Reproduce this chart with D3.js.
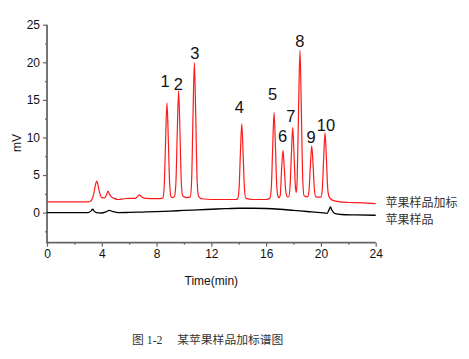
<!DOCTYPE html>
<html><head><meta charset="utf-8">
<script src="https://cdn.jsdelivr.net/npm/d3@7/dist/d3.min.js"></script>
<style>
html,body{margin:0;padding:0;background:#fff;}
svg{display:block;}
</style></head>
<body>
<svg id="chart" width="469" height="359"></svg>
<script>
// ---- data (time in min, signal in mV) ----
const spikedSeries = [
  [0,1.42],[3.0,1.42],[3.2,1.55],[3.4,2.4],[3.55,3.8],[3.63,4.2],[3.72,3.7],[3.85,2.6],[4.0,2.0],
  [4.2,1.95],[4.35,2.4],[4.45,2.85],[4.55,2.5],[4.7,2.1],[4.9,1.9],[5.2,1.75],[5.6,1.85],[6.0,1.9],
  [6.4,1.9],[6.6,2.1],[6.74,2.35],[6.9,2.1],[7.2,1.9],[8.0,1.85],[8.4,1.9],
  [8.46,1.95],[8.56,3.6],[8.66,9.6],[8.76,14.6],[8.86,9.6],[8.96,3.7],[9.06,2.1],[9.18,2.0],
  [9.31,2.2],[9.41,3.9],[9.51,10.6],[9.61,16.2],[9.71,10.6],[9.81,3.9],[9.91,2.2],[10.2,2.0],
  [10.46,2.1],[10.56,4.3],[10.66,12.9],[10.76,19.95],[10.86,12.9],[10.96,4.4],[11.06,2.2],[11.3,1.85],
  [12.0,1.75],[13.0,1.75],[13.8,1.75],
  [13.92,1.85],[14.02,3.1],[14.12,7.85],[14.22,11.8],[14.32,7.85],[14.42,3.1],[14.52,1.9],[15.0,1.75],[16.0,1.75],
  [16.28,1.95],[16.38,3.35],[16.48,8.8],[16.58,13.3],[16.68,8.8],[16.78,3.4],[16.88,2.1],[16.95,2.0],
  [17.03,2.3],[17.13,5.8],[17.23,8.3],[17.33,5.8],[17.43,2.9],[17.55,2.1],
  [17.64,2.1],[17.74,3.3],[17.84,7.6],[17.94,11.3],[18.04,7.6],[18.14,3.4],[18.21,2.7],
  [18.27,4.6],[18.37,13.9],[18.47,21.6],[18.57,13.9],[18.67,4.6],[18.77,2.25],
  [19.03,2.1],[19.13,2.95],[19.23,6.2],[19.33,8.9],[19.43,6.2],[19.53,2.95],[19.63,2.1],
  [20.0,2.05],[20.1,3.1],[20.2,7.2],[20.3,10.6],[20.4,7.2],[20.5,3.1],[20.6,2.1],[20.8,1.7],
  [21.2,1.5],[22.0,1.35],[23.0,1.3],[24.0,1.2]
];
const sampleSeries = [
  [0,0],[3.0,0.0],[3.2,0.2],[3.33,0.45],[3.45,0.2],[3.6,0.0],[4.0,-0.05],[4.3,0.1],[4.55,0.3],
  [4.8,0.15],[5.2,0.0],[6.0,0.03],[7.0,0.08],[8.0,0.13],[9.0,0.2],[10.0,0.3],[11.0,0.37],
  [12.0,0.45],[13.0,0.53],[14.0,0.58],[15.0,0.58],[16.0,0.55],[17.0,0.45],[18.0,0.3],[19.0,0.15],
  [20.0,0.0],[20.45,-0.1],[20.6,0.4],[20.7,0.75],[20.8,0.35],[21.0,-0.1],[21.5,-0.25],[22.5,-0.3],[24.0,-0.35]
];
const peakLabels = ["1","2","3","4","5","6","7","8","9","10"];
const peakLabelTime = [8.62, 9.59, 10.8, 14.04, 16.48, 17.21, 17.8, 18.47, 19.28, 20.37];
const peakLabelMv = [16.75, 16.3, 20.5, 13.2, 15.0, 9.45, 12.0, 22.1, 9.2, 10.8];
const xTicks = [0, 4, 8, 12, 16, 20, 24];
const xMinorTicks = [2, 6, 10, 14, 18, 22];
const yTicks = [0, 5, 10, 15, 20, 25];
const yMinorTicks = [-2.5, 2.5, 7.5, 12.5, 17.5, 22.5];
const seriesNames = ["苹果样品加标", "苹果样品"];
const xTitle = "Time(min)";
const yTitle = "mV";
const caption = "图 1-2\u3000\u00a0某苹果样品加标谱图";

// ---- layout ----
const svg = d3.select("#chart");
const x = d3.scaleLinear().domain([0, 24]).range([47, 375.7]);
const y = d3.scaleLinear().domain([-4, 25]).range([242.7, 24.7]);
const axisColor = "#666";
const font = "'Liberation Sans', Arial, sans-serif";

// axes
const xAxis = d3.axisBottom(x).tickValues(xTicks).tickSize(4).tickPadding(3).tickFormat(d3.format("d"));
const xAxisMinor = d3.axisBottom(x).tickValues(xMinorTicks).tickSize(2).tickFormat("");
const yAxis = d3.axisLeft(y).tickValues(yTicks).tickSize(4).tickPadding(3).tickFormat(d3.format("d"));
const yAxisMinor = d3.axisLeft(y).tickValues(yMinorTicks).tickSize(2).tickFormat("");

function styleAxis(g) {
  g.select(".domain").remove();
  g.selectAll(".tick line").attr("stroke", axisColor).attr("stroke-width", 1.2);
  g.selectAll(".tick text").attr("fill", "#111").style("font-family", font).style("font-size", "12px");
}
svg.append("g").attr("transform", `translate(0,${y.range()[0]})`).call(xAxis).call(styleAxis);
svg.append("g").attr("transform", `translate(0,${y.range()[0]})`).call(xAxisMinor).call(styleAxis);
svg.append("g").attr("transform", `translate(${x.range()[0]},0)`).call(yAxis).call(styleAxis);
svg.append("g").attr("transform", `translate(${x.range()[0]},0)`).call(yAxisMinor).call(styleAxis);

// axis lines
svg.append("line").attr("x1", x(0)).attr("x2", x(0)).attr("y1", y(-4)).attr("y2", y(25))
  .attr("stroke", axisColor).attr("stroke-width", 1.8);
svg.append("line").attr("x1", x(0) - 0.9).attr("x2", x(24)).attr("y1", y(-4)).attr("y2", y(-4))
  .attr("stroke", axisColor).attr("stroke-width", 1.8);

// lines
const line = d3.line().x(d => x(d[0])).y(d => y(d[1])).curve(d3.curveMonotoneX);
svg.append("path").datum(sampleSeries).attr("d", line).attr("fill", "none")
  .attr("stroke", "#000").attr("stroke-width", 1.3);
svg.append("path").datum(spikedSeries).attr("d", line).attr("fill", "none")
  .attr("stroke", "#ff1a1a").attr("stroke-width", 1.2);

// peak labels
svg.append("g").selectAll("text").data(peakLabels).join("text")
  .attr("x", (d, i) => x(peakLabelTime[i]))
  .attr("y", (d, i) => y(peakLabelMv[i]))
  .attr("text-anchor", "middle")
  .style("font-family", font).style("font-size", "16.5px").attr("fill", "#111")
  .text(d => d);

// series names
svg.append("g").selectAll("text").data(seriesNames).join("text")
  .attr("x", 385.5)
  .attr("y", (d, i) => 206.5 + i * 17.6)
  .style("font-family", "'Noto Sans CJK SC', sans-serif").style("font-size", "12px").attr("fill", "#333")
  .text(d => d);

// axis titles
svg.append("text").attr("x", (x(0) + x(24)) / 2).attr("y", 285)
  .attr("text-anchor", "middle").style("font-family", font).style("font-size", "12px").attr("fill", "#111")
  .text(xTitle);
svg.append("text").attr("transform", "translate(21,143) rotate(-90)")
  .attr("text-anchor", "middle").style("font-family", font).style("font-size", "12px").attr("fill", "#111")
  .text(yTitle);

// caption
svg.append("text").attr("x", 132).attr("y", 343.5)
  .style("font-family", "'Liberation Serif', 'Noto Sans CJK SC', serif").style("font-size", "11.8px").attr("fill", "#333")
  .text(caption);
</script>
</body></html>
